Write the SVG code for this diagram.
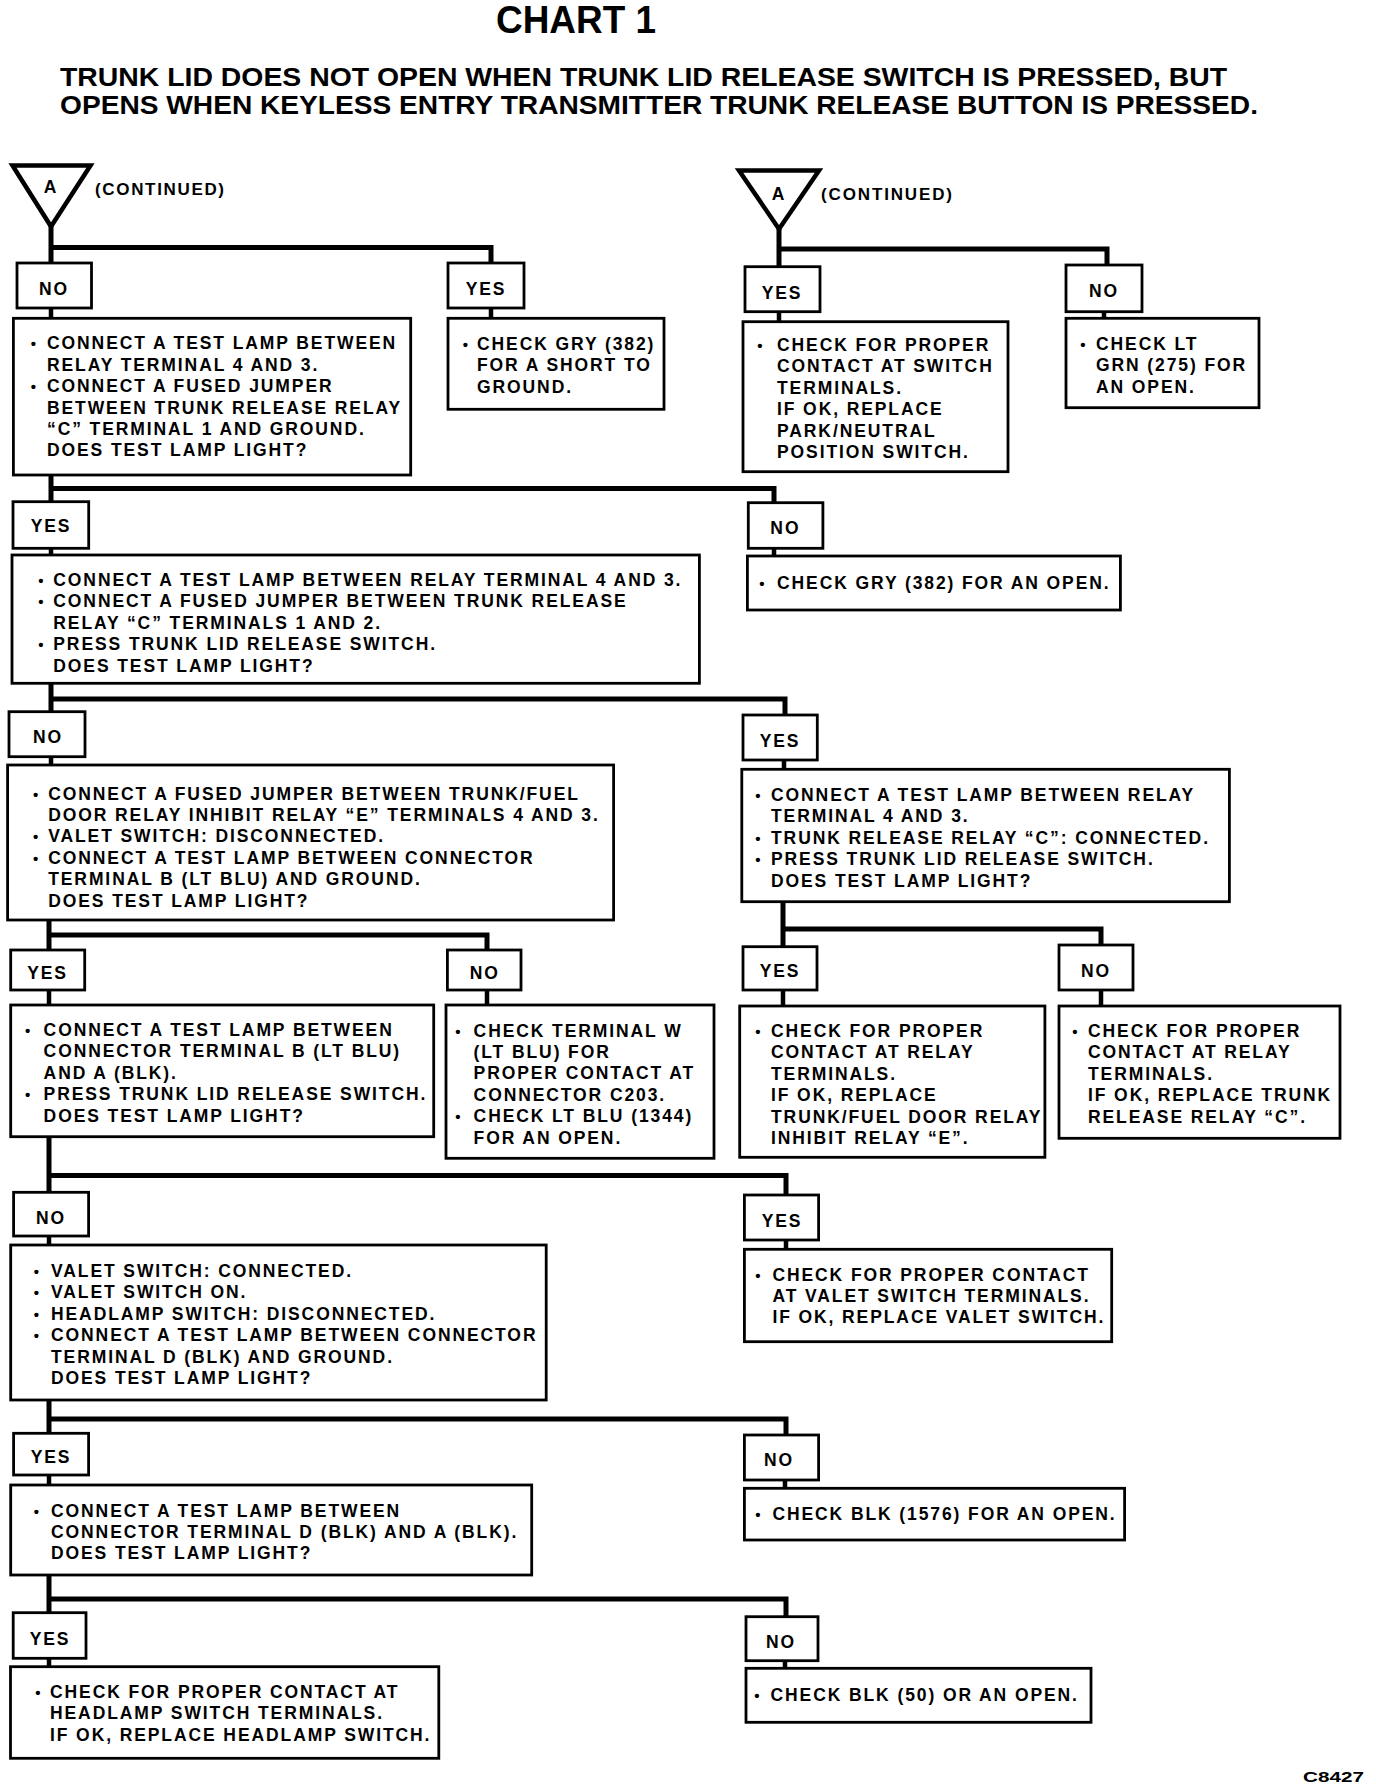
<svg xmlns="http://www.w3.org/2000/svg" width="1376" height="1790" viewBox="0 0 1376 1790">
<style>
.t{font-family:"Liberation Sans",Arial,sans-serif;font-weight:bold;font-size:17.5px;letter-spacing:1.9px;fill:#000}
.lb{text-anchor:middle}
.bu{font-family:"Liberation Sans",Arial,sans-serif;font-weight:bold;font-size:15px;fill:#000;text-anchor:middle}
.h{font-family:"Liberation Sans",Arial,sans-serif;font-weight:bold;fill:#000}
.box{fill:#fff;stroke:#000;stroke-width:2.8}
.tri{fill:#fff;stroke:#000;stroke-width:4.5;stroke-linejoin:miter}
.conn{fill:none;stroke:#000;stroke-width:5;stroke-linejoin:miter}
.link{fill:none;stroke:#000;stroke-width:4.5}
</style>
<rect x="0" y="0" width="1376" height="1790" fill="#fff"/>

<g id="title">
<text class="h" x="496" y="33" font-size="38" textLength="160" lengthAdjust="spacingAndGlyphs">CHART 1</text>
<text class="h" x="60" y="86" font-size="26" textLength="1167" lengthAdjust="spacingAndGlyphs">TRUNK LID DOES NOT OPEN WHEN TRUNK LID RELEASE SWITCH IS PRESSED, BUT</text>
<text class="h" x="60" y="114" font-size="26" textLength="1198" lengthAdjust="spacingAndGlyphs">OPENS WHEN KEYLESS ENTRY TRANSMITTER TRUNK RELEASE BUTTON IS PRESSED.</text>
</g>

<g id="connectors">
<path class="conn" d="M51,226 V263 M51,247.5 H491 V263"/>
<path class="link" d="M51,308 V318.3 M491,308 V318.3"/>
<path class="conn" d="M779,229 V266.7 M779,249 H1107 V265"/>
<path class="link" d="M779,311.7 V321.7 M1104,311.7 V318.3"/>
<path class="conn" d="M51,475 V501.7 M51,488.5 H774 V502.7"/>
<path class="link" d="M51,548.3 V555 M774,548.3 V556"/>
<path class="conn" d="M51,683.3 V711.7 M51,699 H785 V715"/>
<path class="link" d="M51,756.7 V765 M784,760 V769.3"/>
<path class="conn" d="M783,901.7 V946.7 M783,929 H1101 V945"/>
<path class="link" d="M783,990 V1006 M1101,990 V1006"/>
<path class="conn" d="M49,920 V950 M49,935 H487 V950"/>
<path class="link" d="M49,990 V1005 M487,990 V1005"/>
<path class="conn" d="M49,1136.7 V1192.3 M49,1175.5 H786 V1195"/>
<path class="link" d="M49,1236 V1245 M786,1240 V1249.3"/>
<path class="conn" d="M49,1400 V1433.3 M49,1419 H786 V1435"/>
<path class="link" d="M49,1475 V1485 M785,1480 V1488.3"/>
<path class="conn" d="M49,1575 V1612.7 M49,1599 H786 V1616.7"/>
<path class="link" d="M49,1658.3 V1666.7 M785,1660.7 V1668.3"/>
</g>

<g id="startA_left">
<polygon class="tri" points="12.5,165.5 90.5,165.5 51,226.5"/>
<text class="t lb" x="51" y="193" font-size="16">A</text>
<text class="h" x="95" y="195" font-size="17" textLength="129">(CONTINUED)</text>
</g>
<g id="startA_right">
<polygon class="tri" points="739,170.5 819,170.5 779,229"/>
<text class="t lb" x="779" y="200" font-size="16">A</text>
<text class="h" x="821" y="200" font-size="17" textLength="131">(CONTINUED)</text>
</g>

<g id="n1_no"><rect class="box" x="17" y="263" width="74.5" height="45"/><text class="t lb" x="54" y="295">NO</text></g>
<g id="n1_box"><rect class="box" x="13.4" y="318.3" width="397.3" height="156.7"/>
<text class="bu" x="33.5" y="349.3">•</text><text class="bu" x="33.5" y="392.1">•</text>
<text class="t"><tspan x="47" y="349.3">CONNECT A TEST LAMP BETWEEN</tspan><tspan x="47" y="370.7">RELAY TERMINAL 4 AND 3.</tspan><tspan x="47" y="392.1">CONNECT A FUSED JUMPER</tspan><tspan x="47" y="413.5">BETWEEN TRUNK RELEASE RELAY</tspan><tspan x="47" y="434.9">“C” TERMINAL 1 AND GROUND.</tspan><tspan x="47" y="456.3">DOES TEST LAMP LIGHT?</tspan></text></g>
<g id="n1_yes"><rect class="box" x="448" y="263" width="76" height="45"/><text class="t lb" x="486" y="295">YES</text></g>
<g id="n1_yesbox"><rect class="box" x="448" y="318.3" width="216" height="91"/>
<text class="bu" x="465.5" y="350">•</text>
<text class="t"><tspan x="477" y="350">CHECK GRY (382)</tspan><tspan x="477" y="371.4">FOR A SHORT TO</tspan><tspan x="477" y="392.8">GROUND.</tspan></text></g>

<g id="r1_yes"><rect class="box" x="745" y="266.7" width="75" height="45"/><text class="t lb" x="782" y="298.5">YES</text></g>
<g id="r1_yesbox"><rect class="box" x="743" y="321.7" width="265" height="150"/>
<text class="bu" x="760" y="351">•</text>
<text class="t"><tspan x="777" y="351">CHECK FOR PROPER</tspan><tspan x="777" y="372.4">CONTACT AT SWITCH</tspan><tspan x="777" y="393.8">TERMINALS.</tspan><tspan x="777" y="415.2">IF OK, REPLACE</tspan><tspan x="777" y="436.6">PARK/NEUTRAL</tspan><tspan x="777" y="458">POSITION SWITCH.</tspan></text></g>
<g id="r1_no"><rect class="box" x="1066" y="265" width="76" height="46.7"/><text class="t lb" x="1104" y="297">NO</text></g>
<g id="r1_nobox"><rect class="box" x="1066" y="318.3" width="193" height="89.4"/>
<text class="bu" x="1083" y="350">•</text>
<text class="t"><tspan x="1096" y="350">CHECK LT</tspan><tspan x="1096" y="371.4">GRN (275) FOR</tspan><tspan x="1096" y="392.8">AN OPEN.</tspan></text></g>

<g id="n2_yes"><rect class="box" x="13" y="501.7" width="75.7" height="46.6"/><text class="t lb" x="51" y="532">YES</text></g>
<g id="n2_box"><rect class="box" x="12" y="555" width="687.4" height="128.3"/>
<text class="bu" x="41" y="586">•</text><text class="bu" x="41" y="607.4">•</text><text class="bu" x="41" y="650.2">•</text>
<text class="t"><tspan x="53.3" y="586">CONNECT A TEST LAMP BETWEEN RELAY TERMINAL 4 AND 3.</tspan><tspan x="53.3" y="607.4">CONNECT A FUSED JUMPER BETWEEN TRUNK RELEASE</tspan><tspan x="53.3" y="628.8">RELAY “C” TERMINALS 1 AND 2.</tspan><tspan x="53.3" y="650.2">PRESS TRUNK LID RELEASE SWITCH.</tspan><tspan x="53.3" y="671.6">DOES TEST LAMP LIGHT?</tspan></text></g>
<g id="n2_no"><rect class="box" x="748.3" y="502.7" width="74.6" height="45.6"/><text class="t lb" x="785.4" y="533.5">NO</text></g>
<g id="n2_nobox"><rect class="box" x="747.4" y="556" width="373" height="54"/>
<text class="bu" x="762" y="589">•</text>
<text class="t"><tspan x="777" y="589">CHECK GRY (382) FOR AN OPEN.</tspan></text></g>

<g id="n3_no"><rect class="box" x="9" y="711.7" width="76" height="45"/><text class="t lb" x="48" y="743.3">NO</text></g>
<g id="n3_box"><rect class="box" x="7.6" y="765" width="606" height="155"/>
<text class="bu" x="35.7" y="799.5">•</text><text class="bu" x="35.7" y="842.3">•</text><text class="bu" x="35.7" y="863.7">•</text>
<text class="t"><tspan x="48.2" y="799.5">CONNECT A FUSED JUMPER BETWEEN TRUNK/FUEL</tspan><tspan x="48.2" y="820.9">DOOR RELAY INHIBIT RELAY “E” TERMINALS 4 AND 3.</tspan><tspan x="48.2" y="842.3">VALET SWITCH: DISCONNECTED.</tspan><tspan x="48.2" y="863.7">CONNECT A TEST LAMP BETWEEN CONNECTOR</tspan><tspan x="48.2" y="885.1">TERMINAL B (LT BLU) AND GROUND.</tspan><tspan x="48.2" y="906.5">DOES TEST LAMP LIGHT?</tspan></text></g>
<g id="r3_yes"><rect class="box" x="743" y="715" width="74.3" height="45"/><text class="t lb" x="780" y="747">YES</text></g>
<g id="r3_box"><rect class="box" x="741.8" y="769.3" width="487.6" height="132.4"/>
<text class="bu" x="758" y="801">•</text><text class="bu" x="758" y="843.8">•</text><text class="bu" x="758" y="865.2">•</text>
<text class="t"><tspan x="771" y="801">CONNECT A TEST LAMP BETWEEN RELAY</tspan><tspan x="771" y="822.4">TERMINAL 4 AND 3.</tspan><tspan x="771" y="843.8">TRUNK RELEASE RELAY “C”:  CONNECTED.</tspan><tspan x="771" y="865.2">PRESS TRUNK LID RELEASE SWITCH.</tspan><tspan x="771" y="886.6">DOES TEST LAMP LIGHT?</tspan></text></g>

<g id="n4_yes"><rect class="box" x="10.7" y="950" width="74" height="40"/><text class="t lb" x="47.5" y="979">YES</text></g>
<g id="n4_yesbox"><rect class="box" x="10.7" y="1005" width="423" height="131.7"/>
<text class="bu" x="27.6" y="1036">•</text><text class="bu" x="27.6" y="1100.2">•</text>
<text class="t"><tspan x="43.6" y="1036">CONNECT A TEST LAMP BETWEEN</tspan><tspan x="43.6" y="1057.4">CONNECTOR TERMINAL B (LT BLU)</tspan><tspan x="43.6" y="1078.8">AND A (BLK).</tspan><tspan x="43.6" y="1100.2">PRESS TRUNK LID RELEASE SWITCH.</tspan><tspan x="43.6" y="1121.6">DOES TEST LAMP LIGHT?</tspan></text></g>
<g id="n4_no"><rect class="box" x="447.4" y="950" width="73.6" height="40"/><text class="t lb" x="484.7" y="979">NO</text></g>
<g id="n4_nobox"><rect class="box" x="446" y="1005" width="268" height="153.3"/>
<text class="bu" x="458" y="1036.5">•</text><text class="bu" x="458" y="1122.1">•</text>
<text class="t"><tspan x="473.6" y="1036.5">CHECK TERMINAL W</tspan><tspan x="473.6" y="1057.9">(LT BLU) FOR</tspan><tspan x="473.6" y="1079.3">PROPER CONTACT AT</tspan><tspan x="473.6" y="1100.7">CONNECTOR C203.</tspan><tspan x="473.6" y="1122.1">CHECK LT BLU (1344)</tspan><tspan x="473.6" y="1143.5">FOR AN OPEN.</tspan></text></g>

<g id="r4_yes"><rect class="box" x="743" y="946.7" width="74" height="43.3"/><text class="t lb" x="780" y="977">YES</text></g>
<g id="r4_yesbox"><rect class="box" x="739.7" y="1006" width="305.2" height="151.3"/>
<text class="bu" x="758" y="1037">•</text>
<text class="t"><tspan x="771" y="1037">CHECK FOR PROPER</tspan><tspan x="771" y="1058.4">CONTACT AT RELAY</tspan><tspan x="771" y="1079.8">TERMINALS.</tspan><tspan x="771" y="1101.2">IF OK, REPLACE</tspan><tspan x="771" y="1122.6">TRUNK/FUEL DOOR RELAY</tspan><tspan x="771" y="1144">INHIBIT RELAY “E”.</tspan></text></g>
<g id="r4_no"><rect class="box" x="1059" y="945" width="74" height="45"/><text class="t lb" x="1096" y="976.5">NO</text></g>
<g id="r4_nobox"><rect class="box" x="1059" y="1006" width="281" height="132.3"/>
<text class="bu" x="1075" y="1037">•</text>
<text class="t"><tspan x="1088" y="1037">CHECK FOR PROPER</tspan><tspan x="1088" y="1058.4">CONTACT AT RELAY</tspan><tspan x="1088" y="1079.8">TERMINALS.</tspan><tspan x="1088" y="1101.2">IF OK, REPLACE TRUNK</tspan><tspan x="1088" y="1122.6">RELEASE RELAY “C”.</tspan></text></g>

<g id="n5_no"><rect class="box" x="13.6" y="1192.3" width="75" height="43.7"/><text class="t lb" x="51" y="1223.5">NO</text></g>
<g id="n5_box"><rect class="box" x="10.7" y="1245" width="535.5" height="155"/>
<text class="bu" x="36.4" y="1277">•</text><text class="bu" x="36.4" y="1298.4">•</text><text class="bu" x="36.4" y="1319.8">•</text><text class="bu" x="36.4" y="1341.2">•</text>
<text class="t"><tspan x="51" y="1277">VALET SWITCH: CONNECTED.</tspan><tspan x="51" y="1298.4">VALET SWITCH ON.</tspan><tspan x="51" y="1319.8">HEADLAMP SWITCH: DISCONNECTED.</tspan><tspan x="51" y="1341.2">CONNECT A TEST LAMP BETWEEN CONNECTOR</tspan><tspan x="51" y="1362.6">TERMINAL D (BLK) AND GROUND.</tspan><tspan x="51" y="1384">DOES TEST LAMP LIGHT?</tspan></text></g>
<g id="r5_yes"><rect class="box" x="744.4" y="1195" width="74.2" height="45"/><text class="t lb" x="782" y="1226.5">YES</text></g>
<g id="r5_yesbox"><rect class="box" x="744.4" y="1249.3" width="367.3" height="92.4"/>
<text class="bu" x="758" y="1280.5">•</text>
<text class="t"><tspan x="772.4" y="1280.5">CHECK FOR PROPER CONTACT</tspan><tspan x="772.4" y="1301.9">AT VALET SWITCH TERMINALS.</tspan><tspan x="772.4" y="1323.3">IF OK, REPLACE VALET SWITCH.</tspan></text></g>

<g id="n6_yes"><rect class="box" x="13.6" y="1433.3" width="75" height="41.7"/><text class="t lb" x="51" y="1463">YES</text></g>
<g id="n6_yesbox"><rect class="box" x="10.7" y="1485" width="521" height="90"/>
<text class="bu" x="36.4" y="1516.5">•</text>
<text class="t"><tspan x="51" y="1516.5">CONNECT A TEST LAMP BETWEEN</tspan><tspan x="51" y="1537.9">CONNECTOR TERMINAL D (BLK) AND A (BLK).</tspan><tspan x="51" y="1559.3">DOES TEST LAMP LIGHT?</tspan></text></g>
<g id="n6_no"><rect class="box" x="744.4" y="1435" width="74.2" height="45"/><text class="t lb" x="779" y="1466">NO</text></g>
<g id="n6_nobox"><rect class="box" x="744.4" y="1488.3" width="380.2" height="51.7"/>
<text class="bu" x="758" y="1520">•</text>
<text class="t"><tspan x="772.4" y="1520">CHECK BLK (1576) FOR AN OPEN.</tspan></text></g>

<g id="n7_yes"><rect class="box" x="13.2" y="1612.7" width="72.8" height="45.6"/><text class="t lb" x="50" y="1644.5">YES</text></g>
<g id="n7_yesbox"><rect class="box" x="10.5" y="1666.7" width="428.3" height="91.6"/>
<text class="bu" x="38" y="1698">•</text>
<text class="t"><tspan x="50" y="1698">CHECK FOR PROPER CONTACT AT</tspan><tspan x="50" y="1719.4">HEADLAMP SWITCH TERMINALS.</tspan><tspan x="50" y="1740.8">IF OK, REPLACE HEADLAMP SWITCH.</tspan></text></g>
<g id="n7_no"><rect class="box" x="746" y="1616.7" width="72" height="44"/><text class="t lb" x="781" y="1647.5">NO</text></g>
<g id="n7_nobox"><rect class="box" x="746" y="1668.3" width="345" height="54"/>
<text class="bu" x="757" y="1701">•</text>
<text class="t"><tspan x="770.5" y="1701">CHECK BLK (50) OR AN OPEN.</tspan></text></g>

<text id="figid" class="h" x="1303" y="1782" font-size="15" textLength="61" lengthAdjust="spacingAndGlyphs">C8427</text>
</svg>
